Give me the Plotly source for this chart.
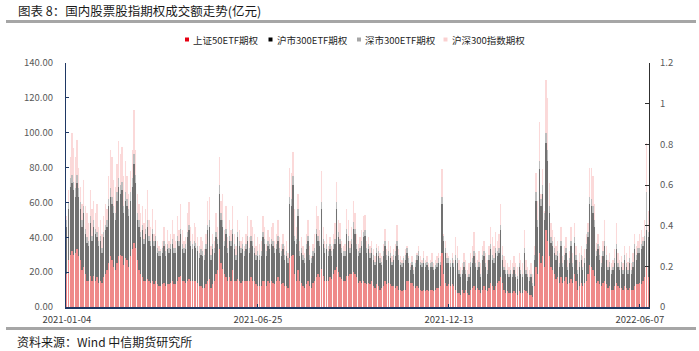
import plotly.graph_objects as go
import pandas as pd

# ---------------- data ----------------
holidays = ['2021-02-11', '2021-02-12', '2021-02-15', '2021-02-16', '2021-02-17', '2021-04-05',
            '2021-05-03', '2021-05-04', '2021-05-05', '2021-06-14', '2021-09-20', '2021-09-21',
            '2021-10-01', '2021-10-04', '2021-10-05', '2021-10-06', '2021-10-07', '2022-01-03',
            '2022-01-31', '2022-02-01', '2022-02-02', '2022-02-03', '2022-02-04', '2022-04-04',
            '2022-04-05', '2022-05-02', '2022-05-03', '2022-05-04', '2022-06-03']
hol = set(holidays)
dates = [d.strftime('%Y-%m-%d') for d in pd.bdate_range('2021-01-04', '2022-06-14')
         if d.strftime('%Y-%m-%d') not in hol]

tick_dates = ['2021-01-04', '2021-06-25', '2021-12-13', '2022-06-07']
series_names = ['上证50ETF期权', '沪市300ETF期权', '深市300ETF期权', '沪深300指数期权']

sz50_etf = [
    19, 27, 30, 32, 30, 31, 33, 29, 27, 21,
    23, 19, 15, 15, 18, 15, 18, 15, 17, 14,
    15, 14, 17, 19, 21, 25, 29, 27, 23, 21,
    25, 29, 30, 29, 24, 28, 27, 23, 29, 33,
    37, 34, 27, 21, 19, 17, 15, 15, 16, 15,
    14, 15, 13, 15, 13, 12, 12, 13, 14, 12,
    13, 13, 14, 15, 13, 13, 15, 17, 18, 15,
    15, 14, 15, 16, 15, 15, 15, 15, 14, 12,
    12, 11, 11, 13, 15, 16, 11, 13, 15, 19,
    21, 33, 25, 22, 19, 17, 15, 17, 15, 21,
    15, 15, 16, 15, 14, 15, 15, 15, 15, 15,
    17, 15, 15, 13, 12, 12, 12, 15, 15, 12,
    15, 14, 15, 14, 13, 15, 17, 15, 13, 14,
    12, 12, 11, 28, 29, 30, 19, 15, 21, 15,
    14, 12, 11, 13, 15, 12, 11, 14, 15, 17,
    19, 17, 22, 18, 15, 15, 15, 17, 16, 19,
    21, 23, 20, 17, 16, 15, 15, 18, 18, 19,
    19, 20, 19, 17, 14, 15, 14, 15, 14, 13,
    14, 13, 15, 12, 11, 13, 12, 10, 11, 12,
    15, 13, 14, 13, 12, 12, 11, 12, 10, 10,
    9, 10, 10, 15, 15, 14, 14, 12, 11, 12,
    11, 10, 9, 10, 9, 10, 9, 10, 10, 9,
    10, 11, 11, 12, 31, 19, 14, 12, 13, 12,
    13, 12, 10, 8, 8, 7, 10, 8, 10, 8,
    7, 10, 11, 12, 10, 11, 10, 8, 10, 12,
    10, 9, 11, 14, 12, 10, 12, 14, 15, 17,
    14, 10, 8, 9, 8, 8, 8, 9, 8, 7,
    9, 8, 8, 10, 9, 8, 7, 7, 6, 12,
    23, 19, 31, 25, 29, 23, 44, 38, 29, 23,
    21, 19, 16, 17, 14, 17, 14, 15, 17, 13,
    14, 16, 14, 19, 15, 10, 12, 14, 12, 14,
    15, 19, 24, 23, 21, 18, 14, 15, 13, 12,
    14, 15, 13, 11, 12, 10, 10, 12, 14, 12,
    11, 11, 10, 12, 11, 10, 11, 10, 10, 12,
    13, 13, 14, 13, 15, 17, 23, 17]

sh300_etf = [
    27, 29, 39, 39, 37, 32, 38, 34, 29, 25,
    31, 23, 22, 20, 30, 23, 28, 27, 23, 21,
    23, 17, 23, 25, 25, 33, 34, 32, 31, 29,
    36, 40, 35, 38, 30, 33, 31, 29, 32, 36,
    45, 37, 23, 25, 21, 27, 21, 27, 30, 23,
    21, 27, 22, 23, 18, 17, 17, 18, 21, 17,
    20, 18, 19, 21, 18, 18, 23, 18, 24, 18,
    16, 19, 25, 28, 20, 18, 20, 19, 18, 16,
    18, 18, 16, 20, 29, 30, 16, 20, 16, 21,
    15, 32, 25, 24, 16, 25, 16, 21, 20, 21,
    18, 12, 24, 20, 17, 18, 14, 18, 23, 16,
    21, 20, 16, 14, 17, 15, 17, 25, 21, 17,
    20, 19, 21, 21, 18, 18, 21, 16, 16, 19,
    15, 17, 14, 31, 29, 40, 19, 21, 31, 14,
    17, 15, 14, 20, 23, 15, 14, 15, 16, 25,
    19, 18, 34, 18, 16, 18, 14, 16, 13, 14,
    15, 33, 20, 19, 15, 14, 14, 24, 20, 12,
    17, 25, 23, 16, 15, 16, 21, 25, 27, 18,
    19, 15, 16, 15, 13, 18, 17, 15, 13, 17,
    20, 14, 15, 15, 12, 15, 18, 23, 17, 14,
    14, 15, 17, 16, 10, 7, 10, 7, 12, 15,
    18, 14, 14, 15, 14, 14, 12, 13, 13, 12,
    12, 12, 14, 12, 28, 19, 17, 13, 12, 11,
    12, 11, 17, 17, 11, 10, 9, 15, 9, 7,
    10, 13, 14, 17, 13, 10, 13, 9, 17, 17,
    13, 10, 16, 19, 15, 15, 19, 15, 16, 27,
    13, 11, 11, 10, 9, 11, 9, 12, 9, 9,
    14, 11, 9, 21, 10, 9, 8, 10, 6, 15,
    38, 27, 48, 33, 36, 27, 50, 46, 25, 14,
    14, 12, 11, 12, 9, 18, 9, 12, 14, 8,
    11, 19, 9, 18, 12, 9, 11, 13, 9, 11,
    18, 21, 35, 35, 33, 28, 15, 18, 14, 11,
    15, 20, 14, 10, 11, 9, 11, 13, 19, 11,
    10, 12, 9, 15, 12, 9, 14, 9, 13, 21,
    14, 18, 17, 20, 20, 21, 21, 23]

sz300_etf = [
    4, 4, 5, 5, 5, 5, 5, 5, 4, 4,
    4, 3, 3, 3, 4, 3, 4, 3, 3, 3,
    3, 3, 3, 3, 4, 4, 5, 4, 4, 4,
    5, 5, 5, 5, 4, 5, 4, 4, 5, 5,
    6, 5, 4, 4, 3, 3, 3, 3, 4, 3,
    3, 3, 3, 3, 3, 3, 3, 3, 3, 3,
    3, 3, 3, 3, 3, 3, 3, 3, 3, 3,
    3, 3, 3, 3, 3, 3, 3, 3, 3, 3,
    3, 3, 3, 3, 3, 4, 3, 3, 3, 3,
    3, 5, 4, 4, 3, 3, 3, 3, 3, 3,
    3, 3, 3, 3, 3, 3, 3, 3, 3, 3,
    3, 3, 3, 3, 3, 3, 3, 3, 3, 3,
    3, 3, 3, 3, 3, 3, 3, 3, 3, 3,
    3, 3, 3, 4, 4, 5, 3, 3, 4, 3,
    3, 3, 3, 3, 3, 3, 3, 3, 3, 3,
    3, 3, 4, 3, 3, 3, 3, 3, 3, 3,
    3, 4, 3, 3, 3, 3, 3, 3, 3, 3,
    3, 4, 3, 3, 3, 3, 3, 3, 3, 3,
    3, 3, 3, 3, 2, 3, 3, 3, 2, 3,
    3, 3, 3, 3, 2, 3, 3, 3, 3, 2,
    2, 3, 3, 3, 3, 2, 2, 2, 2, 3,
    3, 2, 2, 3, 2, 2, 2, 2, 3, 2,
    2, 2, 3, 2, 4, 3, 3, 3, 3, 2,
    3, 2, 3, 3, 2, 2, 2, 3, 2, 2,
    2, 3, 3, 3, 2, 2, 3, 2, 3, 3,
    2, 2, 3, 3, 3, 3, 3, 3, 3, 3,
    3, 2, 2, 2, 2, 2, 2, 2, 2, 2,
    2, 2, 2, 3, 2, 2, 2, 2, 2, 3,
    5, 4, 5, 4, 5, 4, 6, 6, 4, 3,
    3, 3, 3, 3, 2, 3, 2, 3, 3, 2,
    3, 3, 2, 3, 3, 2, 3, 3, 2, 3,
    3, 3, 4, 4, 4, 4, 3, 3, 3, 2,
    3, 3, 3, 2, 3, 2, 2, 3, 3, 2,
    2, 3, 2, 3, 2, 2, 3, 2, 3, 3,
    3, 3, 3, 3, 3, 3, 22, 3]

csi300_idx = [
    2, 7, 12, 24, 19, 18, 20, 12, 9, 9,
    15, 13, 14, 10, 15, 15, 11, 9, 16, 8,
    9, 8, 9, 12, 6, 13, 22, 23, 15, 15,
    16, 21, 18, 20, 17, 18, 13, 9, 12, 16,
    25, 14, 11, 9, 11, 11, 9, 11, 17, 9,
    8, 11, 4, 9, 4, 3, 1, 4, 8, 4,
    8, 4, 6, 11, 8, 4, 11, 6, 14, 8,
    4, 4, 11, 13, 8, 6, 10, 9, 5, 4,
    7, 6, 3, 6, 14, 13, 5, 6, 4, 11,
    7, 16, 7, 15, 6, 13, 6, 9, 6, 13,
    6, 5, 7, 6, 4, 4, 3, 6, 11, 6,
    9, 8, 8, 5, 8, 6, 6, 9, 7, 4,
    6, 4, 7, 10, 4, 6, 9, 6, 4, 6,
    5, 6, 3, 17, 15, 14, 15, 7, 9, 6,
    6, 5, 3, 6, 9, 5, 1, 4, 8, 13,
    11, 6, 18, 7, 4, 6, 3, 4, 3, 6,
    9, 12, 7, 9, 4, 3, 4, 11, 9, 4,
    7, 12, 9, 6, 4, 6, 6, 9, 9, 4,
    4, 4, 4, 3, 3, 2, 3, 3, 3, 4,
    7, 3, 6, 4, 3, 3, 4, 9, 3, 3,
    2, 1, 3, 1, 1, 2, 3, 2, 2, 1,
    3, 3, 2, 4, 2, 3, 2, 2, 5, 2,
    3, 4, 3, 3, 16, 1, 4, 3, 1, 2,
    3, 2, 10, 7, 6, 4, 4, 5, 6, 4,
    6, 5, 7, 11, 6, 4, 6, 6, 5, 6,
    6, 6, 5, 10, 10, 7, 9, 6, 8, 12,
    5, 6, 6, 4, 4, 6, 6, 6, 6, 5,
    6, 6, 6, 10, 6, 4, 4, 6, 5, 5,
    11, 11, 22, 3, 9, 1, 30, 30, 13, 8,
    6, 6, 5, 6, 6, 8, 4, 5, 6, 4,
    4, 8, 6, 8, 5, 6, 5, 5, 6, 5,
    6, 5, 17, 18, 17, 9, 5, 6, 5, 4,
    6, 12, 5, 4, 5, 4, 4, 5, 12, 6,
    4, 3, 4, 5, 6, 5, 7, 4, 5, 6,
    5, 4, 8, 8, 2, 9, 28, 12]

series_values = [sz50_etf, sh300_etf, sz300_etf, csi300_idx]
n = min([len(dates)] + [len(v) for v in series_values])
dates = dates[:n]

bar_colors = ['#EF8A8A', '#727272', '#BCBCBC', '#FBDADA']
legend_colors = ['#E60012', '#000000', '#A6A6A6', '#FAD0D0']

# ---------------- figure ----------------
L, R, T, B = 66, 649, 63, 307
W, H = 699, 351


def px(xp):
    return (xp - L) / (R - L)


def py(yp):
    return (B - yp) / (B - T)


fig = go.Figure()
for name, vals, col in zip(series_names, series_values, bar_colors):
    fig.add_trace(go.Bar(x=dates, y=vals[:n], name=name,
                         marker=dict(color=col, line=dict(width=0.02, color=col)),
                         showlegend=False))
# carrier trace for the secondary (right) axis
fig.add_trace(go.Scatter(x=[dates[0]], y=[None], yaxis='y2', mode='lines',
                         showlegend=False, hoverinfo='skip'))

font_cn = 'Noto Sans CJK SC'
navy = '#1F3864'

fig.update_layout(
    width=W, height=H,
    margin=dict(l=L, r=W - R, t=T, b=H - B),
    barmode='stack', bargap=0.22,
    plot_bgcolor='white', paper_bgcolor='white',
    font=dict(family=font_cn, size=10, color='#404040'),
    showlegend=False,
    xaxis=dict(type='category', tickmode='array', tickvals=tick_dates, ticktext=tick_dates,
               range=[-0.5, n - 0.5], autorange=False,
               showline=True, linecolor=navy, linewidth=1.5, ticks='inside', ticklen=3,
               tickcolor=navy, tickangle=0, showgrid=False, zeroline=False,
               tickfont=dict(family=font_cn, size=9.5, color='#404040'), ticklabelstandoff=3),
    yaxis=dict(range=[0, 140], dtick=20, tickformat='.2f', showline=True, linecolor=navy,
               linewidth=1.2, ticks='inside', ticklen=3, tickcolor=navy, showgrid=False,
               zeroline=False, tickfont=dict(family=font_cn, size=9.5, color='#595959'),
               ticklabelstandoff=10),
    yaxis2=dict(range=[0, 1.2], dtick=0.2, overlaying='y', side='right', showline=True,
                linecolor='#303030', linewidth=1.2, ticks='inside', ticklen=4,
                tickcolor='#303030', showgrid=False, zeroline=False,
                tickfont=dict(family=font_cn, size=9.5, color='#595959'),
                ticklabelstandoff=8),
)

shapes = [
    dict(type='line', xref='paper', yref='paper', x0=px(6), x1=px(696), y0=py(21.5), y1=py(21.5),
         line=dict(color='#A6A6A6', width=3)),
    dict(type='line', xref='paper', yref='paper', x0=px(6), x1=px(696), y0=py(328.5), y1=py(328.5),
         line=dict(color='#A6A6A6', width=3)),
]
annotations = [
    dict(text='图表 8：国内股票股指期权成交额走势(亿元)', xref='paper', yref='paper',
         x=px(16), y=py(10.5), xanchor='left', yanchor='middle', showarrow=False,
         font=dict(family=font_cn, size=12.5, color='#1A1A1A')),
    dict(text='资料来源：Wind 中信期货研究所', xref='paper', yref='paper',
         x=px(15), y=py(341), xanchor='left', yanchor='middle', showarrow=False,
         font=dict(family=font_cn, size=12, color='#1A1A1A')),
]
legend_sq_x = [185, 268.5, 357, 443.5]
for name, col, sx in zip(series_names, legend_colors, legend_sq_x):
    shapes.append(dict(type='rect', xref='paper', yref='paper', x0=px(sx), x1=px(sx + 4),
                       y0=py(41.5), y1=py(37.5), fillcolor=col, line=dict(width=0)))
    annotations.append(dict(text=name, xref='paper', yref='paper', x=px(sx + 6), y=py(39.5),
                            xanchor='left', yanchor='middle', showarrow=False,
                            font=dict(family=font_cn, size=9.5, color='#262626')))

fig.update_layout(shapes=shapes, annotations=annotations)
fig.write_html('out.html')
